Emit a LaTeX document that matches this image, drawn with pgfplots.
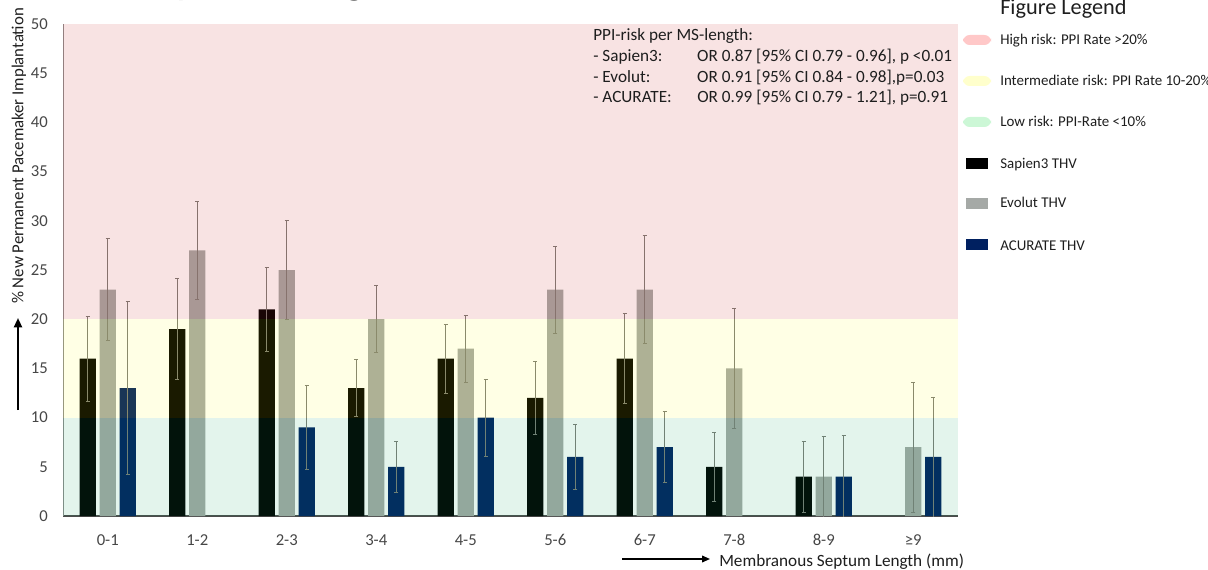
\documentclass[border=0pt]{standalone}
\usepackage{fontspec}
\setmainfont{Carlito}
\usepackage{pgfplots}
\usepackage{pgfplotstable}
\pgfplotsset{compat=1.18}
\usetikzlibrary{arrows.meta}
\definecolor{sapien}{RGB}{0,0,0}
\definecolor{evolut}{RGB}{165,169,166}
\definecolor{acurate}{RGB}{0,32,96}
\definecolor{bandred}{RGB}{200,40,40}
\definecolor{bandyel}{RGB}{255,255,0}
\definecolor{bandgrn}{RGB}{21,163,97}
\definecolor{errc}{RGB}{125,125,120}
\definecolor{pillred}{RGB}{255,200,200}
\definecolor{pillyel}{RGB}{255,255,204}
\definecolor{pillgrn}{RGB}{204,247,214}
\definecolor{txt}{RGB}{30,30,30}
\definecolor{tickc}{RGB}{70,70,70}

\pgfplotstableread{
x y e
0 16 4.3
1 19 5.1
2 21 4.3
3 13 2.9
4 16 3.5
5 12 3.7
6 16 4.6
7 5 3.5
8 4 3.6
}\sapien
\pgfplotstableread{
x y e
0 23 5.2
1 27 5.0
2 25 5.0
3 20 3.4
4 17 3.4
5 23 4.4
6 23 5.5
7 15 6.1
8 4 4.1
9 7 6.6
}\evolut
\pgfplotstableread{
x y e
0 13 8.8
2 9 4.3
3 5 2.6
4 10 3.9
5 6 3.3
6 7 3.6
8 4 4.2
9 6 6.1
}\acurate

\begin{document}
\begin{tikzpicture}
\begin{axis}[
  at={(47.25pt,39.75pt)}, anchor=south west,
  scale only axis, width=671.25pt, height=369pt,
  xmin=-0.5, xmax=9.5, ymin=0, ymax=50,
  axis x line*=bottom, axis y line*=left,
  x axis line style={draw=black!70, line width=0.8pt, -},
  y axis line style={draw=black!45, line width=0.6pt, -},
  ytick={0,5,...,50}, xtick={0,...,9},
  xticklabels={0-1,1-2,2-3,3-4,4-5,5-6,6-7,7-8,8-9,≥9},
  major tick length=0pt,
  tick label style={font=\fontsize{12.5}{14}\selectfont, text=tickc},
  /pgf/number format/assume math mode=true,
  xticklabel style={anchor=base, yshift=-21.75pt},
  yticklabel style={anchor=east, xshift=-7.8pt},
  error bars/y dir=both, error bars/y explicit,
  error bars/error bar style={errc, line width=0.55pt},
  error bars/error mark options={rotate=90, errc, mark size=1.6pt, line width=0.55pt},
]
\addplot[ybar, bar width=0.179, bar shift=0, fill=sapien, draw=none]
  table[x expr=\thisrow{x}-0.2235, y=y, y error=e]{\sapien};
\addplot[ybar, bar width=0.179, bar shift=0, fill=evolut, draw=none]
  table[x=x, y=y, y error=e]{\evolut};
\addplot[ybar, bar width=0.179, bar shift=0, fill=acurate, draw=none]
  table[x expr=\thisrow{x}+0.2235, y=y, y error=e]{\acurate};
\fill[bandgrn, fill opacity=0.12] (axis cs:-0.5,0) rectangle (axis cs:9.5,10);
\fill[bandyel, fill opacity=0.10] (axis cs:-0.5,10) rectangle (axis cs:9.5,20);
\fill[bandred, fill opacity=0.13] (axis cs:-0.5,20) rectangle (axis cs:9.5,50);
\end{axis}

\begin{scope}[x=0.75pt, y=-0.75pt, shift={(0pt,426.75pt)}]
  % cropped title (only descenders show)
  \node[anchor=base west, inner sep=0, font=\fontsize{32.7}{36}\selectfont, text=black] at (-113,-6) {Membranous Septum Length};
  % y label and arrow
  \node[rotate=90, inner sep=0, font=\fontsize{12.6}{14}\selectfont, text=txt] at (19,156) {\% New Permanent Pacemaker Implantation};
  \draw[line width=1.5pt, -{Triangle[length=7pt,width=6pt]}] (18,410) -- (18,318);
  % x label and arrow
  \draw[line width=1.2pt, -{Triangle[length=6pt,width=5pt]}] (622,559) -- (710,559);
  \node[anchor=base west, inner sep=0, font=\fontsize{12.9}{14}\selectfont, text=txt] at (719,566) {Membranous Septum Length (mm)};
  % annotation
  \node[anchor=base west, inner sep=0, font=\fontsize{12.9}{15.5}\selectfont, text=txt] at (593,41)
    {\begin{tabular}[t]{@{}p{78pt}@{}l@{}}
      \multicolumn{2}{@{}l@{}}{PPI-risk per MS-length:}\\
      - Sapien3: & OR 0.87 [95\% CI 0.79 - 0.96], p <0.01\\
      - Evolut: & OR 0.91 [95\% CI 0.84 - 0.98],p=0.03\\
      - ACURATE: & OR 0.99 [95\% CI 0.79 - 1.21], p=0.91
    \end{tabular}};
  % legend
  \node[anchor=base west, inner sep=0, font=\fontsize{16.7}{18}\selectfont, text=txt] at (1000,15) {Figure Legend};
  \fill[pillred, rounded corners=5] (963,35) rectangle (991,45);
  \fill[pillyel, rounded corners=5] (963,76) rectangle (991,86);
  \fill[pillgrn, rounded corners=5] (963,117) rectangle (991,127);
  \fill[sapien] (966,158) rectangle (988,169);
  \fill[evolut] (966,198) rectangle (988,209);
  \fill[acurate] (966,239) rectangle (988,250);
  \begin{scope}[every node/.style={anchor=base west, inner sep=0, font=\fontsize{11.2}{13}\selectfont, text=txt}]
    \node at (1000,45) {High risk: PPI Rate >20\%};
    \node at (1000,86) {Intermediate risk: PPI Rate 10-20\%};
    \node at (1000,127) {Low risk: PPI-Rate <10\%};
    \node at (1000,168) {Sapien3 THV};
    \node at (1000,208) {Evolut THV};
    \node at (1000,250) {ACURATE THV};
  \end{scope}
\end{scope}
\pgfresetboundingbox
\path[use as bounding box] (0,0) rectangle (906pt,426.75pt);
\end{tikzpicture}
\end{document}
